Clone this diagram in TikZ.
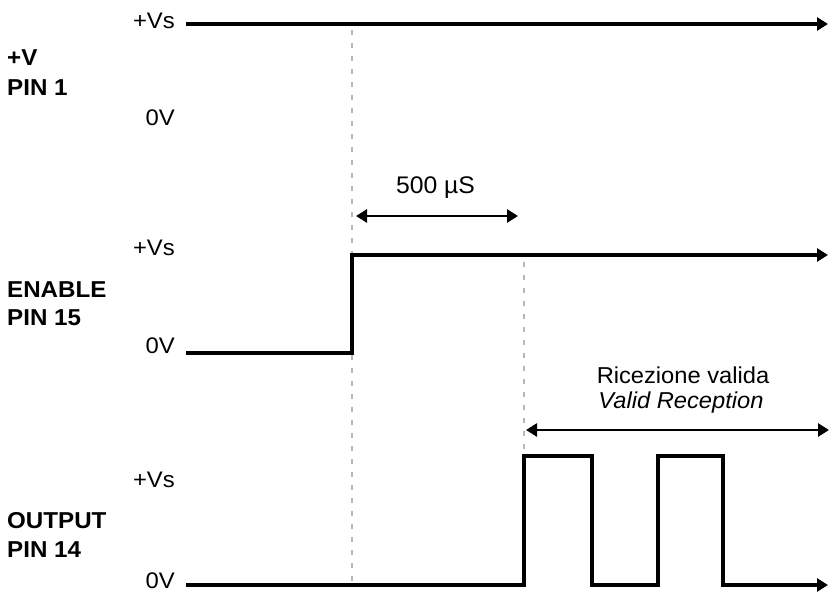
\documentclass[tikz,border=0pt]{standalone}
\usepackage{fontspec}
\setmainfont{Liberation Sans}[FakeStretch=1.03]
\newfontfamily\lvlfont{Liberation Sans}[FakeStretch=1.06]
\newfontfamily\pinfont{Liberation Sans}[FakeStretch=1.05]
\usetikzlibrary{arrows.meta}
\begin{document}
\begin{tikzpicture}[x=1pt,y=-1pt,
  sig/.style={line width=4pt, line join=miter},
  sigarrow/.style={sig, -{Triangle[length=11pt,width=13pt]}},
  dim/.style={line width=2.8pt, {Triangle[length=11pt,width=13pt]}-{Triangle[length=11pt,width=13pt]}},
  guide/.style={line width=2.2pt, color=black!28, dash pattern=on 5pt off 8pt},
  lvl/.style={font=\lvlfont\fontsize{22.5}{24}\selectfont, anchor=base east, inner sep=0pt},
  pin/.style={font=\pinfont\fontsize{23}{26}\selectfont\bfseries, anchor=base west, inner sep=0pt},
  note/.style={font=\fontsize{23}{26}\selectfont, anchor=base, inner sep=0pt}]
\useasboundingbox (0,0) rectangle (829,593);
% guides
\draw[guide] (352,30) -- (352,583);
\draw[guide] (524,262) -- (524,456);
% +V PIN 1
\node[lvl] (v1hi) at (175,28.5) {+Vs};
\node[lvl] (v1lo) at (175,126) {0V};
\node[pin] (p1a) at (7,65.5) {+V};
\node[pin] (p1b) at (7,95.5) {PIN 1};
\draw[sigarrow] (186,24) -- (828,24);
% 500 us
\node[note, font=\fontsize{24}{26}\selectfont] (t500) at (435.5,194) {500 µS};
\coordinate (d1a) at (356,216);
\coordinate (d1b) at (518,216);
\draw[dim] (d1a) -- (d1b);
% ENABLE
\node[lvl] (v2hi) at (175,256) {+Vs};
\node[lvl] (v2lo) at (175,353) {0V};
\node[pin] (p2a) at (7,298) {ENABLE};
\node[pin] (p2b) at (7,325) {PIN 15};
\draw[sigarrow] (186,353) -- (352,353) -- (352,255) -- (828,255);
% Valid reception
\node[note] (rv1) at (683,383) {Ricezione valida};
\node[note, font=\fontsize{23}{26}\selectfont\itshape] (rv2) at (681,408) {Valid Reception};
\coordinate (d2a) at (526,430);
\coordinate (d2b) at (829,430);
\draw[dim] (d2a) -- (d2b);
% OUTPUT
\node[lvl] (v3hi) at (175,487) {+Vs};
\node[lvl] (v3lo) at (175,588) {0V};
\node[pin] (p3a) at (7,528) {OUTPUT};
\node[pin] (p3b) at (7,557) {PIN 14};
\draw[sigarrow] (186,585) -- (524,585) -- (524,456) -- (592,456) -- (592,585) -- (658,585) -- (658,456) -- (723,456) -- (723,585) -- (828,585);
\end{tikzpicture}
\end{document}
